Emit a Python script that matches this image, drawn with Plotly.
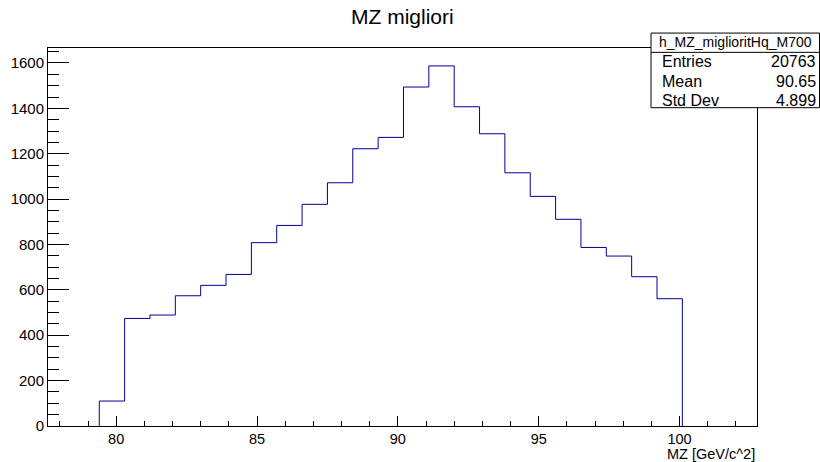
import plotly.graph_objects as go

# ---- data ----
bin_edges = [79.4, 80.3, 81.2, 82.1, 83.0, 83.9, 84.8, 85.7, 86.6, 87.5, 88.4, 89.3,
             90.2, 91.1, 92.0, 92.9, 93.8, 94.7, 95.6, 96.5, 97.4, 98.3, 99.2, 100.1]
counts = [110, 474, 489, 574, 620, 668, 808, 884, 977, 1072, 1222, 1272,
          1494, 1587, 1407, 1288, 1116, 1012, 911, 787, 749, 658, 561]
hist_name = "h_MZ_miglioritHq_M700"
stat_labels = ["Entries", "Mean", "Std Dev"]
stat_values = ["20763", "90.65", "4.899"]
title_text = "MZ migliori"
x_title = "MZ [GeV/c^2]"
x_range = [77.58, 102.75]
y_range = [0, 1666]

FONT = "Liberation Sans, Arial, Helvetica, sans-serif"

# step outline
xs = [bin_edges[0]] + bin_edges + [bin_edges[-1]]
ys = [0] + counts + [counts[-1], 0]

fig = go.Figure()
fig.add_trace(go.Scatter(x=xs, y=ys, mode="lines", line=dict(color="#000099", width=1, shape="hv"),
                         hoverinfo="skip", showlegend=False))

fig.update_layout(
    width=820, height=462,
    margin=dict(l=48, r=63, t=48, b=36),
    paper_bgcolor="white", plot_bgcolor="white",
    font=dict(family=FONT, color="black", size=15),
    showlegend=False,
    title=dict(text=title_text, x=0.4907, xanchor="center", y=1 - 17 / 462, yanchor="middle",
               yref="container", xref="container", font=dict(size=21, family=FONT, color="black")),
)

fig.update_xaxes(
    range=x_range, showgrid=False, zeroline=False,
    showline=True, linecolor="black", linewidth=1, mirror=True,
    ticks="inside", ticklen=10, tickwidth=1, tickcolor="black", dtick=5, tick0=80,
    tickfont=dict(size=14.5, family=FONT, color="black"),
    minor=dict(ticks="inside", ticklen=5, tickwidth=1, tickcolor="black", dtick=1, showgrid=False),
)
fig.update_yaxes(
    range=y_range, showgrid=False, zeroline=False,
    showline=True, linecolor="black", linewidth=1, mirror=True,
    ticks="inside", ticklen=21, tickwidth=1, tickcolor="black", dtick=200, tick0=0,
    tickfont=dict(size=15, family=FONT, color="black"),
    minor=dict(ticks="inside", ticklen=11, tickwidth=1, tickcolor="black", dtick=50, showgrid=False),
)

# x-axis title (right aligned, ROOT style)
fig.add_annotation(text=x_title, xref="paper", yref="paper", x=1.0, y=-0.0735,
                   xanchor="right", yanchor="middle", showarrow=False,
                   font=dict(size=14.5, family=FONT, color="black"))

# stats box
bx0, bx1 = 0.8505, 1.0882
by0, by1, bsep = 0.8421, 1.0395, 0.9885
fig.add_shape(type="rect", xref="paper", yref="paper", x0=bx0, x1=bx1, y0=by0, y1=by1,
              line=dict(color="black", width=1), fillcolor="white", layer="above")
fig.add_shape(type="line", xref="paper", yref="paper", x0=bx0, x1=bx1, y0=bsep, y1=bsep,
              line=dict(color="black", width=1), layer="above")
fig.add_annotation(text=hist_name, xref="paper", yref="paper", x=(bx0 + bx1) / 2, y=1.0150,
                   xanchor="center", yanchor="middle", showarrow=False,
                   font=dict(size=14, family=FONT, color="black"))
row_y = [0.963, 0.911, 0.8624]
for lab, val, yy in zip(stat_labels, stat_values, row_y):
    fig.add_annotation(text=lab, xref="paper", yref="paper", x=0.8632, y=yy,
                       xanchor="left", yanchor="middle", showarrow=False,
                       font=dict(size=16, family=FONT, color="black"))
    fig.add_annotation(text=val, xref="paper", yref="paper", x=1.086, y=yy,
                       xanchor="right", yanchor="middle", showarrow=False,
                       font=dict(size=16, family=FONT, color="black"))

fig.write_html("out.html")
